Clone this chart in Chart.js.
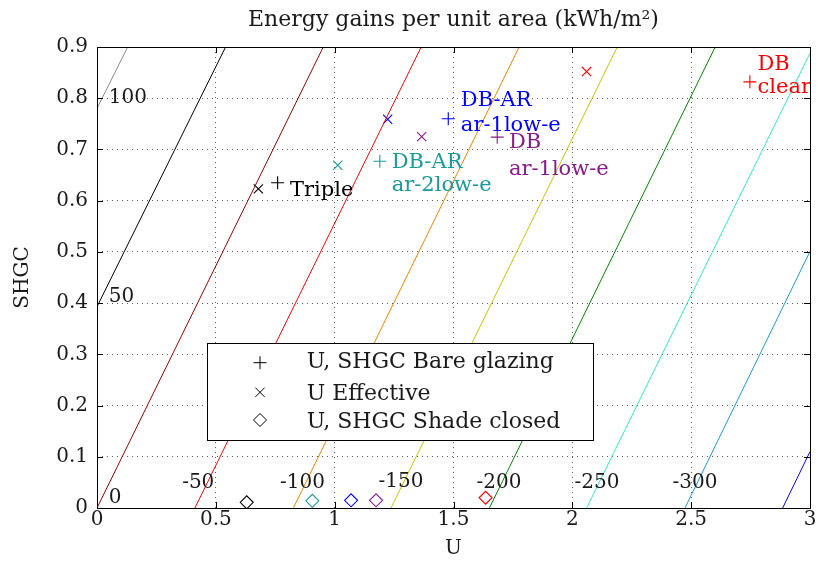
<!DOCTYPE html>
<html>
<head>
<meta charset="utf-8">
<script src="https://cdn.jsdelivr.net/npm/chart.js@4.4.0/dist/chart.umd.min.js"></script>
<style>
  html, body { margin: 0; padding: 0; background: #fff; }
</style>
</head>
<body>
<canvas id="chart" width="818" height="561"></canvas>
<script>
// axis ticks
const xTickVals = [0, 0.5, 1, 1.5, 2, 2.5, 3];
const xTickLabels = ["0", "0.5", "1", "1.5", "2", "2.5", "3"];
const yTickVals = [0, 0.1, 0.2, 0.3, 0.4, 0.5, 0.6, 0.7, 0.8, 0.9];
const yTickLabels = ["0", "0.1", "0.2", "0.3", "0.4", "0.5", "0.6", "0.7", "0.8", "0.9"];

// contour lines of constant energy gain (kWh/m2), end points
const levels = [100, 50, 0, -50, -100, -150, -200, -250, -300, -350];
const lineStartU = [0, 0, 0, 0.412, 0.826, 1.237, 1.651, 2.06, 2.474, 2.885];
const lineStartSHGC = [0.78, 0.393, 0, 0, 0, 0, 0, 0, 0, 0];
const lineEndU = [0.129, 0.541, 0.952, 1.364, 1.776, 2.189, 2.601, 3.0, 3.0, 3.0];
const lineEndSHGC = [0.9, 0.9, 0.9, 0.9, 0.9, 0.9, 0.9, 0.888, 0.501, 0.11];
const levelColors = ["#8c8c8c", "#000000", "#a00000", "#ff0000", "#ff8000",
                     "#c8c800", "#008800", "#30eec8", "#1e9be0", "#0000ff"];

// contour labels
const contourLabels = ["100", "50", "0", "-50", "-100", "-150", "-200", "-250", "-300"];
const contourLabelU = [0.13, 0.103, 0.076, 0.426, 0.865, 1.279, 1.691, 2.104, 2.516];
const contourLabelSHGC = [0.80, 0.412, 0.019, 0.049, 0.049, 0.051, 0.049, 0.049, 0.049];

// glazing types
const glazingNames = [["Triple"], ["DB-AR", "ar-2low-e"], ["DB-AR", "ar-1low-e"], ["DB", "ar-1low-e"], ["DB", "clear"]];
const glazingColors = ["#000000", "#1a9a9a", "#0000ff", "#8b1a8b", "#ff0000"];
const bareU = [0.76, 1.19, 1.478, 1.684, 2.747];
const bareSHGC = [0.635, 0.677, 0.76, 0.724, 0.832];
const effU = [0.679, 1.013, 1.223, 1.366, 2.06];
const effSHGC = [0.623, 0.669, 0.759, 0.725, 0.852];
const shadeU = [0.63, 0.906, 1.069, 1.174, 1.635];
const shadeSHGC = [0.011, 0.014, 0.015, 0.015, 0.02];
// where the name labels sit (baseline of each line)
const nameU = [0.812, 1.24, 1.531, 1.733, 2.779];
const nameSHGC1 = [0.609, 0.664, 0.784, 0.702, 0.856];
const nameSHGC2 = [null, 0.618, 0.736, 0.651, 0.81];

const legendLabels = ["U, SHGC Bare glazing", "U Effective", "U, SHGC Shade closed"];

const FONT = "'DejaVu Serif', 'Liberation Serif', serif";
const textColor = "#1a1a1a";

function pts(us, ss) {
  return us.map((u, i) => ({ x: u, y: ss[i] }));
}

const lineSets = levels.map((lv, i) => ({
  label: "gain " + lv,
  data: [{ x: lineStartU[i], y: lineStartSHGC[i] }, { x: lineEndU[i], y: lineEndSHGC[i] }],
  showLine: true,
  borderColor: levelColors[i],
  borderWidth: 1,
  pointRadius: 0,
  fill: false,
}));

const markerSets = [
  { label: legendLabels[0], data: pts(bareU, bareSHGC), pointStyle: "cross", pointRadius: 6.5 },
  { label: legendLabels[1], data: pts(effU, effSHGC), pointStyle: "crossRot", pointRadius: 6.5 },
  { label: legendLabels[2], data: pts(shadeU, shadeSHGC), pointStyle: "rectRot", pointRadius: 6.5 },
].map(d => Object.assign(d, {
  showLine: false,
  pointBorderColor: glazingColors,
  pointBackgroundColor: "rgba(0,0,0,0)",
  pointBorderWidth: 1.1,
}));

// little marker shapes for the legend box
function marker(ctx, kind, x, y, r) {
  ctx.beginPath();
  if (kind === 0) {
    ctx.moveTo(x - r, y); ctx.lineTo(x + r, y);
    ctx.moveTo(x, y - r); ctx.lineTo(x, y + r);
  } else if (kind === 1) {
    const d = r * 0.71;
    ctx.moveTo(x - d, y - d); ctx.lineTo(x + d, y + d);
    ctx.moveTo(x + d, y - d); ctx.lineTo(x - d, y + d);
  } else {
    ctx.moveTo(x - r, y); ctx.lineTo(x, y - r); ctx.lineTo(x + r, y); ctx.lineTo(x, y + r);
    ctx.closePath();
  }
  ctx.stroke();
}

const annotate = {
  id: "annotate",
  afterDatasetsDraw(chart) {
    const ctx = chart.ctx;
    const xs = chart.scales.x, ys = chart.scales.y;
    ctx.save();
    ctx.font = "20px " + FONT;
    ctx.textBaseline = "middle";
    ctx.textAlign = "center";
    ctx.fillStyle = textColor;
    contourLabels.forEach((t, i) => {
      ctx.fillText(t, xs.getPixelForValue(contourLabelU[i]), ys.getPixelForValue(contourLabelSHGC[i]));
    });
    ctx.font = "21px " + FONT;
    ctx.textBaseline = "alphabetic";
    ctx.textAlign = "left";
    glazingNames.forEach((lines, i) => {
      ctx.fillStyle = glazingColors[i];
      const x = xs.getPixelForValue(nameU[i]);
      ctx.fillText(lines[0], x, ys.getPixelForValue(nameSHGC1[i]));
      if (lines[1]) ctx.fillText(lines[1], x, ys.getPixelForValue(nameSHGC2[i]));
    });
    ctx.restore();
  },
  afterDraw(chart) {
    const ctx = chart.ctx;
    const a = chart.chartArea;
    const xs = chart.scales.x, ys = chart.scales.y;
    ctx.save();
    // frame + inward ticks
    ctx.strokeStyle = "#000";
    ctx.lineWidth = 1;
    ctx.strokeRect(Math.round(a.left) + 0.5, Math.round(a.top) + 0.5,
                   Math.round(a.right - a.left), Math.round(a.bottom - a.top));
    ctx.beginPath();
    xTickVals.forEach(v => {
      const px = Math.round(xs.getPixelForValue(v)) + 0.5;
      ctx.moveTo(px, a.bottom); ctx.lineTo(px, a.bottom - 6);
      ctx.moveTo(px, a.top); ctx.lineTo(px, a.top + 6);
    });
    yTickVals.forEach(v => {
      const py = Math.round(ys.getPixelForValue(v)) + 0.5;
      ctx.moveTo(a.left, py); ctx.lineTo(a.left + 6, py);
      ctx.moveTo(a.right, py); ctx.lineTo(a.right - 6, py);
    });
    ctx.stroke();

    // title
    ctx.fillStyle = textColor;
    ctx.font = "22px " + FONT;
    ctx.textAlign = "center";
    ctx.textBaseline = "alphabetic";
    ctx.fillText("Energy gains per unit area (kWh/m\u00b2)", (a.left + a.right) / 2, 26);

    // legend box
    const bx = 207.5, by = 343.5, bw = 386, bh = 97;
    ctx.fillStyle = "#fff";
    ctx.fillRect(bx, by, bw, bh);
    ctx.strokeStyle = "#000";
    ctx.strokeRect(bx, by, bw, bh);
    const markY = [362.7, 392.3, 420];
    const textY = [368.3, 400, 427.5];
    ctx.fillStyle = textColor;
    ctx.textAlign = "left";
    ctx.font = "22px " + FONT;
    legendLabels.forEach((t, i) => {
      marker(ctx, i, 260, markY[i], 6.5);
      ctx.fillText(t, 306.7, textY[i]);
    });
    ctx.restore();
  }
};

new Chart(document.getElementById("chart"), {
  type: "scatter",
  data: { datasets: lineSets.concat(markerSets) },
  options: {
    responsive: false,
    animation: false,
    layout: { padding: { top: 47, right: 8, left: 0, bottom: 0 } },
    plugins: { legend: { display: false }, tooltip: { enabled: false }, title: { display: false } },
    scales: {
      x: {
        type: "linear", min: 0, max: 3,
        afterBuildTicks: s => { s.ticks = xTickVals.map(v => ({ value: v })); },
        afterFit: s => { s.height = 53; },
        ticks: { callback: (v, i) => xTickLabels[i], padding: 0, maxRotation: 0, autoSkip: false,
                 color: textColor, font: { family: FONT, size: 20 } },
        grid: { color: "rgba(0,0,0,0.65)", drawTicks: false, lineWidth: 1 },
        border: { display: false, dash: [1, 4] },
        title: { display: true, text: "U", color: textColor, font: { family: FONT, size: 20 },
                 padding: { top: 0, bottom: 0 } },
      },
      y: {
        type: "linear", min: 0, max: 0.9,
        afterBuildTicks: s => { s.ticks = yTickVals.map(v => ({ value: v })); },
        afterFit: s => { s.width = 97; },
        ticks: { callback: (v, i) => yTickLabels[i], padding: 9, autoSkip: false,
                 color: textColor, font: { family: FONT, size: 20 } },
        grid: { color: "rgba(0,0,0,0.65)", drawTicks: false, lineWidth: 1 },
        border: { display: false, dash: [1, 4] },
        title: { display: true, text: "SHGC", color: textColor, font: { family: FONT, size: 20 },
                 padding: { top: 11, bottom: 0 } },
      },
    },
  },
  plugins: [annotate],
});
</script>
</body>
</html>
